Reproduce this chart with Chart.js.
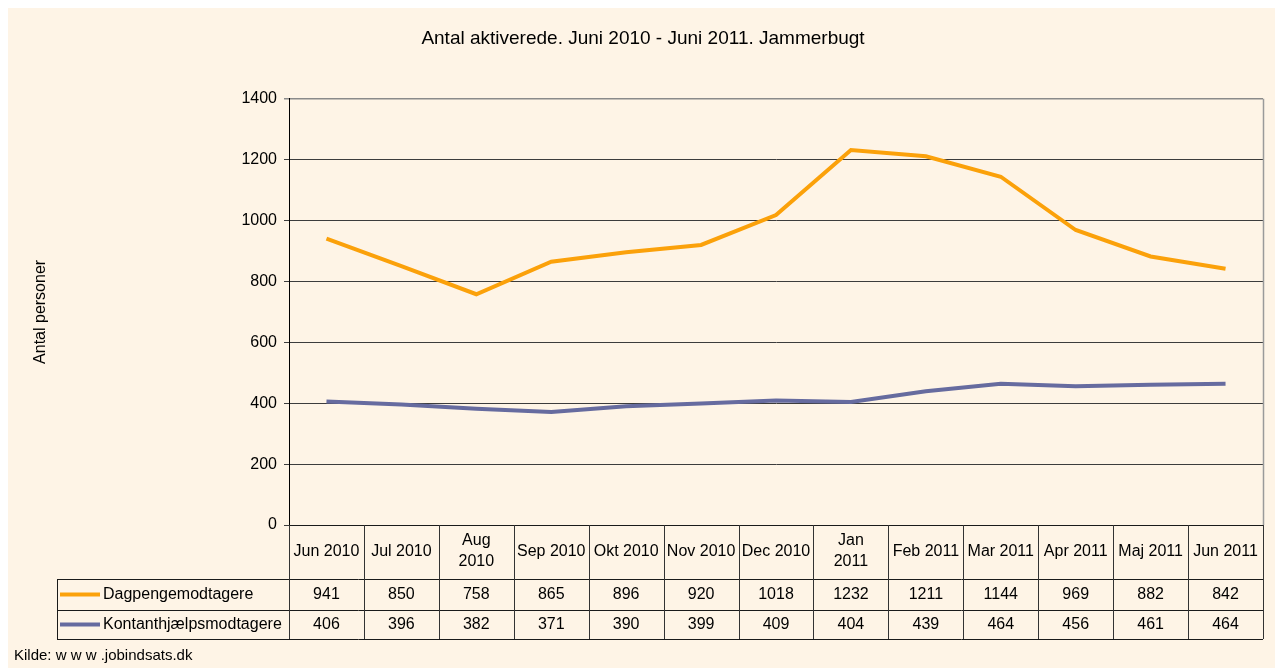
<!DOCTYPE html>
<html>
<head>
<meta charset="utf-8">
<title>Antal aktiverede</title>
<script src="https://cdn.jsdelivr.net/npm/chart.js@4/dist/chart.umd.min.js"></script>
<style>
    html, body { margin: 0; padding: 0; background: #ffffff; }
    .wrap { width: 1275px; height: 668px; position: relative; }
</style>
</head>
<body>
<div class="wrap"><canvas id="myChart" width="1275" height="668"></canvas></div>
<script>
/*Data*/

const months = ['Jun 2010', 'Jul 2010', ['Aug', '2010'], 'Sep 2010', 'Okt 2010', 'Nov 2010', 'Dec 2010',
    ['Jan', '2011'], 'Feb 2011', 'Mar 2011', 'Apr 2011', 'Maj 2011', 'Jun 2011'];
const dagpenge = [941, 850, 758, 865, 896, 920, 1018, 1232, 1211, 1144, 969, 882, 842];
const kontant = [406, 396, 382, 371, 390, 399, 409, 404, 439, 464, 456, 461, 464];
const yTicks = [0, 200, 400, 600, 800, 1000, 1200, 1400];

const FONT = 'Liberation Sans, Arial, sans-serif';
const BG = '#fef4e6';

/*Background + data table*/

const backdrop = {
    id: 'backdrop',
    beforeDraw(chart) {
        const ctx = chart.ctx;
        ctx.save();
        ctx.fillStyle = '#ffffff';
        ctx.fillRect(0, 0, chart.width, chart.height);
        ctx.fillStyle = BG;
        ctx.fillRect(8, 8, chart.width - 8, chart.height - 8);
        ctx.restore();
    }
};

const dataTable = {
    id: 'dataTable',
    afterDraw(chart) {
        const ctx = chart.ctx;
        const x = chart.scales.x;
        const area = chart.chartArea;
        const catTop = area.bottom;
        const rows = [catTop + 54, catTop + 85, catTop + 114];
        const legendLeft = 57;

        ctx.save();

        // plot border on the right
        ctx.strokeStyle = '#9a9a9a';
        ctx.lineWidth = 1.5;
        ctx.beginPath();
        ctx.moveTo(area.right + 0.5, area.top);
        ctx.lineTo(area.right + 0.5, catTop);
        ctx.stroke();

        // horizontal lines
        ctx.strokeStyle = '#1a1a1a';
        ctx.lineWidth = 1;
        ctx.beginPath();
        ctx.moveTo(area.left, catTop + 0.5);
        ctx.lineTo(area.right, catTop + 0.5);
        for (const ry of rows) {
            ctx.moveTo(legendLeft, ry + 0.5);
            ctx.lineTo(area.right, ry + 0.5);
        }
        ctx.moveTo(legendLeft + 0.5, rows[0]);
        ctx.lineTo(legendLeft + 0.5, rows[2]);
        ctx.stroke();

        // vertical lines at category edges
        ctx.strokeStyle = '#333333';
        ctx.beginPath();
        for (let i = 0; i <= months.length; i++) {
            let px;
            if (i === 0) px = area.left;
            else if (i === months.length) px = area.right;
            else px = (x.getPixelForValue(i - 1) + x.getPixelForValue(i)) / 2;
            px = Math.round(px) + 0.5;
            ctx.moveTo(px, catTop);
            ctx.lineTo(px, rows[2]);
        }
        ctx.stroke();

        // legend keys + values
        ctx.font = '16px ' + FONT;
        ctx.textBaseline = 'middle';
        chart.data.datasets.forEach(function(ds, r) {
            const cy = (rows[r] + rows[r + 1]) / 2;
            ctx.strokeStyle = ds.borderColor;
            ctx.lineWidth = 4;
            ctx.beginPath();
            ctx.moveTo(60, cy);
            ctx.lineTo(100, cy);
            ctx.stroke();
            ctx.fillStyle = '#000000';
            ctx.textAlign = 'left';
            ctx.fillText(ds.label, 103, cy);
            ctx.textAlign = 'center';
            ds.data.forEach(function(v, i) {
                ctx.fillText(String(v), x.getPixelForValue(i), cy);
            });
        });

        // source
        ctx.textAlign = 'left';
        ctx.font = '15px ' + FONT;
        ctx.fillText('Kilde: w w w .jobindsats.dk', 14, 656);

        ctx.restore();
    }
};

/*Chart*/

function initChart() {
    const ctx = document.getElementById('myChart').getContext('2d');

    const myChart = new Chart(ctx, {
        type: 'line',
        data: {
            labels: months,
            datasets: [{
                label: 'Dagpengemodtagere',
                data: dagpenge,
                borderColor: '#fba10a',
                borderWidth: 4,
                pointRadius: 0,
                tension: 0
            },
            {
                label: 'Kontanthjælpsmodtagere',
                data: kontant,
                borderColor: '#666b9f',
                borderWidth: 4,
                pointRadius: 0,
                tension: 0
            }]
        },
        options: {
            responsive: false,
            animation: false,
            layout: { padding: { left: 23, right: 12, top: 0, bottom: 0 } },
            plugins: {
                legend: { display: false },
                tooltip: { enabled: false },
                title: {
                    display: true,
                    text: 'Antal aktiverede. Juni 2010 - Juni 2011. Jammerbugt',
                    color: '#000000',
                    font: { family: FONT, size: 19, weight: 'normal', lineHeight: 1.2 },
                    padding: { top: 27, bottom: 49 }
                }
            },
            scales: {
                x: {
                    offset: true,
                    grid: { display: false, drawTicks: false },
                    border: { display: false },
                    ticks: {
                        color: '#000000',
                        font: { family: FONT, size: 16, lineHeight: 1.28 },
                        padding: 16,
                        maxRotation: 0,
                        autoSkip: false,
                        crossAlign: 'center'
                    },
                    afterFit(scale) { scale.height = 143; }
                },
                y: {
                    min: 0,
                    max: 1400,
                    afterBuildTicks(scale) {
                        scale.ticks = yTicks.map(function(v) { return { value: v }; });
                    },
                    grid: {
                        color(c) { return c.tick && c.tick.value === 1400 ? '#8a8a8a' : '#3c3c3c'; },
                        lineWidth(c) { return c.tick && c.tick.value === 1400 ? 1.5 : 1; },
                        tickLength: 5
                    },
                    border: { color: '#000000', width: 1 },
                    ticks: {
                        color: '#000000',
                        font: { family: FONT, size: 16 },
                        padding: 7,
                        callback(v) { return String(v); }
                    },
                    title: {
                        display: true,
                        text: 'Antal personer',
                        color: '#000000',
                        font: { family: FONT, size: 16 },
                        padding: { top: 8, bottom: 0 }
                    },
                    afterFit(scale) { scale.width = 266; }
                }
            }
        },
        plugins: [backdrop, dataTable]
    });
}

const app = () => {
    initChart();
};
app();
</script>
</body>
</html>
